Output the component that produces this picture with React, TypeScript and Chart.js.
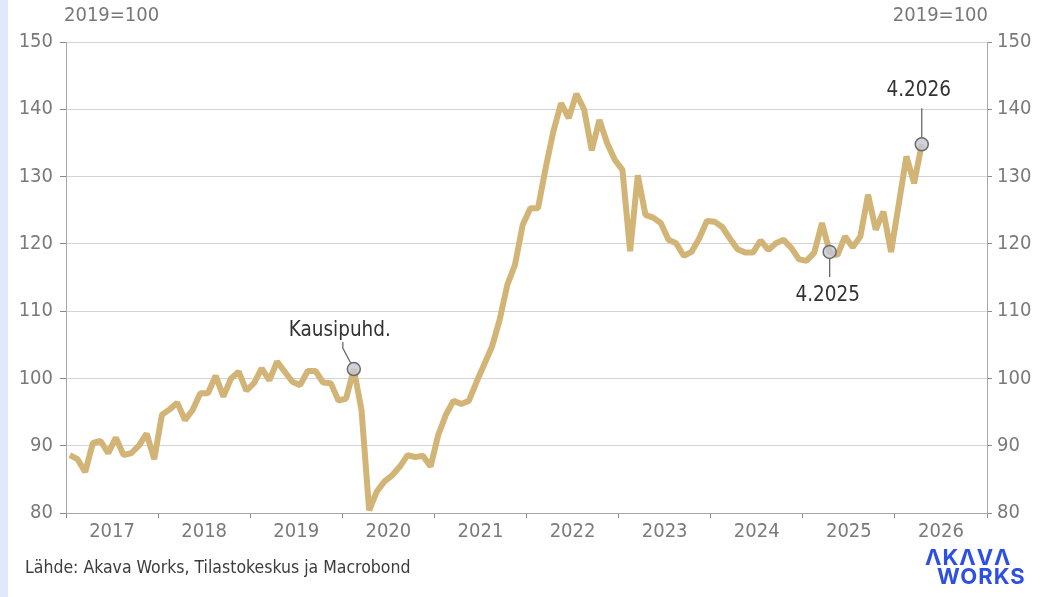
import React, { useEffect, useRef } from "react";
import { Chart, registerables } from "chart.js";

Chart.register(...registerables);

const years = ["2017", "2018", "2019", "2020", "2021", "2022", "2023", "2024", "2025", "2026"];

// Monthly index, Jan 2017 – Apr 2026 (2019=100)
const values = [
  88.6, 88.0, 86.1, 90.4, 90.7, 88.9, 91.2, 88.6, 88.9, 90.0, 91.8, 88.0,
  94.6, 95.4, 96.4, 93.8, 95.3, 97.8, 97.8, 100.4, 97.3, 100.0, 101.0, 98.2,
  99.3, 101.5, 99.7, 102.5, 101.0, 99.5, 99.0, 101.1, 101.1, 99.4, 99.3, 96.7,
  97.0, 101.4, 95.3, 80.4, 83.2, 84.7, 85.6, 86.9, 88.6, 88.3, 88.5, 86.9,
  91.6, 94.6, 96.7, 96.2, 96.7, 99.5, 102.1, 104.7, 108.7, 113.9, 116.9, 122.8,
  125.3, 125.3, 131.3, 136.7, 140.9, 138.7, 142.3, 140.0, 133.9, 138.4, 135.0, 132.5,
  131.0, 118.9, 130.2, 124.3, 123.9, 123.1, 120.6, 120.1, 118.2, 118.8, 120.8, 123.4,
  123.3, 122.5, 120.8, 119.2, 118.7, 118.7, 120.5, 119.1, 120.1, 120.6, 119.4, 117.7,
  117.5, 118.7, 123.1, 118.8, 118.3, 121.1, 119.5, 121.1, 127.3, 122.1, 124.8, 118.8,
  125.9, 133.0, 129.0, 134.8,
];

const yTicks = [80, 90, 100, 110, 120, 130, 140, 150];
const unitLabel = "2019=100";
const sourceText = "Lähde: Akava Works, Tilastokeskus ja Macrobond";
const annotationIndex = [37, 99, 111];
const annotationText = ["Kausipuhd.", "4.2025", "4.2026"];
const logoLines = ["ΛKΛVΛ", "WORKS"];

const FONT = '"DejaVu Sans Condensed", "DejaVu Sans", sans-serif';
const LINE_COLOR = "#d3b477";

const overlayPlugin = {
  id: "overlay",
  afterDatasetsDraw(chart: any) {
    const ctx = chart.ctx;
    const xs = chart.scales.x;
    const ys = chart.scales.y;
    ctx.save();

    // unit labels
    ctx.font = `20px ${FONT}`;
    ctx.fillStyle = "#787878";
    ctx.textBaseline = "middle";
    ctx.textAlign = "left";
    ctx.fillText(unitLabel, 64, 16);
    ctx.textAlign = "right";
    ctx.fillText(unitLabel, 988, 16);

    // source
    ctx.font = `17.5px ${FONT}`;
    ctx.fillStyle = "#3c3c3c";
    ctx.textAlign = "left";
    ctx.fillText(sourceText, 25, 568);

    // logo
    ctx.fillStyle = "#2d4fe3";
    ctx.font = `bold 22px Inter, "Noto Sans", sans-serif`;
    ctx.textBaseline = "alphabetic";
    (ctx as any).letterSpacing = "1px";
    ctx.fillText(logoLines[0], 925, 565);
    ctx.fillText(logoLines[1], 937, 584);
    (ctx as any).letterSpacing = "0px";

    // annotations
    const offsets = [
      { dx: -14, dy: -38 },
      { dx: -2, dy: 44 },
      { dx: -3, dy: -54 },
    ];
    annotationIndex.forEach((idx, k) => {
      const px = xs.getPixelForValue(idx + 0.5);
      const py = ys.getPixelForValue(values[idx]);
      const r = 6.5;
      const o = offsets[k];
      const lx = px + o.dx;
      const ly = py + o.dy;
      ctx.strokeStyle = "#6a6a6a";
      ctx.lineWidth = 1.3;
      ctx.beginPath();
      if (k === 0) {
        ctx.moveTo(lx + 3, ly + 11);
        ctx.lineTo(lx + 3, ly + 17);
        const ang = Math.atan2(py - (ly + 17), px - (lx + 3));
        ctx.lineTo(px - r * Math.cos(ang), py - r * Math.sin(ang));
      } else if (o.dy > 0) {
        ctx.moveTo(px, py + r);
        ctx.lineTo(px, ly - 19);
      } else {
        ctx.moveTo(px, py - r);
        ctx.lineTo(px, ly + 18);
      }
      ctx.stroke();

      ctx.beginPath();
      ctx.arc(px, py, r, 0, Math.PI * 2);
      ctx.fillStyle = "rgba(196,200,212,0.8)";
      ctx.fill();
      ctx.strokeStyle = "#6a6a6a";
      ctx.lineWidth = 1.5;
      ctx.stroke();

      ctx.font = `20.5px ${FONT}`;
      ctx.fillStyle = "#333333";
      ctx.textAlign = "center";
      ctx.textBaseline = "middle";
      ctx.fillText(annotationText[k], lx, ly);
    });
    ctx.restore();
  },
};

export default function App() {
  const ref = useRef<HTMLCanvasElement>(null);

  useEffect(() => {
    if (!ref.current) return;
    const points = values.map((v, i) => ({ x: i + 0.5, y: v }));
    const tickFont = { family: FONT, size: 20 };
    const chart = new Chart(ref.current, {
      type: "line",
      data: {
        datasets: [
          {
            data: points,
            borderColor: LINE_COLOR,
            borderWidth: 6,
            pointRadius: 0,
            tension: 0,
            borderJoinStyle: "bevel",
            yAxisID: "y",
          },
        ],
      },
      options: {
        animation: false,
        responsive: false,
        maintainAspectRatio: false,
        layout: { padding: { top: 42, left: 0, right: 0, bottom: 0 } },
        plugins: { legend: { display: false }, tooltip: { enabled: false } },
        scales: {
          x: {
            type: "linear",
            min: 0,
            max: 120,
            afterBuildTicks: (scale: any) => {
              const t = [];
              for (let v = 0; v <= 120; v += 6) t.push({ value: v });
              scale.ticks = t;
            },
            afterFit: (scale: any) => {
              scale.height = 84;
            },
            grid: {
              drawOnChartArea: false,
              tickLength: 5,
              tickColor: (c: any) => (c.tick && c.tick.value % 12 === 0 ? "#8a8a8a" : "rgba(0,0,0,0)"),
            },
            border: { display: true, color: "#a8a8a8", width: 1 },
            ticks: {
              autoSkip: false,
              maxRotation: 0,
              padding: 2,
              color: "#7a7a7a",
              font: tickFont,
              callback: (v: any) => (v % 12 === 6 ? years[(v - 6) / 12] : ""),
            },
          },
          y: {
            position: "left",
            min: yTicks[0],
            max: yTicks[yTicks.length - 1],
            afterBuildTicks: (scale: any) => {
              scale.ticks = yTicks.map((v) => ({ value: v }));
            },
            afterFit: (scale: any) => {
              scale.width = 66;
            },
            grid: { color: "#d4d4d4", tickColor: "#8a8a8a", tickLength: 6, lineWidth: 1 },
            border: { display: true, color: "#a8a8a8" },
            ticks: { color: "#7a7a7a", font: tickFont, padding: 7 },
          },
          y2: {
            position: "right",
            min: yTicks[0],
            max: yTicks[yTicks.length - 1],
            afterBuildTicks: (scale: any) => {
              scale.ticks = yTicks.map((v) => ({ value: v }));
            },
            afterFit: (scale: any) => {
              scale.width = 57;
            },
            grid: { drawOnChartArea: false, tickColor: "#8a8a8a", tickLength: 5 },
            border: { display: true, color: "#a8a8a8" },
            ticks: { color: "#7a7a7a", font: tickFont, padding: 5 },
          },
        },
      },
      plugins: [overlayPlugin],
    });
    return () => chart.destroy();
  }, []);

  return (
    <div style={{ position: "fixed", left: 0, top: 0, width: 1044, height: 597, background: "#ffffff" }}>
      <div style={{ position: "absolute", left: 0, top: 0, width: 8, height: 597, background: "#e0e8fb" }} />
      <canvas ref={ref} width={1044} height={597} style={{ position: "absolute", left: 0, top: 0, width: 1044, height: 597 }} />
    </div>
  );
}
